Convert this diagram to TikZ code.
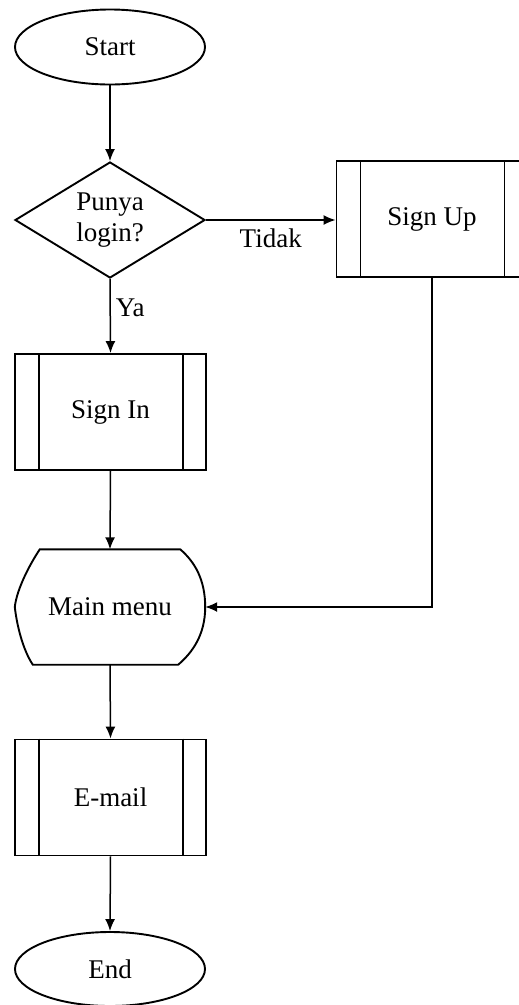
\documentclass[tikz,border=0pt]{standalone}
\usepackage{fontspec}
\setmainfont{Liberation Serif}
\usetikzlibrary{shapes.geometric,arrows.meta}

\begin{document}
\begin{tikzpicture}[x=1pt,y=-1pt,
  font=\fontsize{27}{31}\selectfont,
  shape line/.style={line width=1.9pt},
  terminal/.style={ellipse, draw, shape line, minimum width=190pt, minimum height=75pt, inner sep=0pt},
  decision/.style={diamond, draw, shape line, aspect=1.64, minimum width=190pt, minimum height=116pt, inner sep=0pt, align=center},
  subproc/.style={rectangle, draw, shape line, minimum width=191pt, minimum height=116pt, inner sep=0pt},
  display/.style={rectangle, minimum width=190pt, minimum height=115pt, inner sep=0pt},
  bar/.style={line width=1.4pt},
  flow/.style={line width=1.5pt, -{Latex[length=12pt,width=10pt]}},
  lbl/.style={inner sep=0pt},
]
\useasboundingbox (0,0) rectangle (519,1005);

% nodes
\node[terminal] (start) at (110,47) {Start};
\node[decision] (login) at (110,220) {Punya\\login?};
\node[subproc] (signup) at (432,219) {Sign Up};
\node[subproc] (signin) at (110.5,412) {Sign In};
\node[display] (menu) at (110,607) {Main menu};
\node[subproc] (email) at (110.5,797.5) {E-mail};
\node[terminal, minimum height=74pt] (end) at (110,969) {End};

% side bars of the predefined-process boxes
\foreach \n in {signup,signin,email}{
  \draw[bar] ([xshift=25pt]\n.north west) -- ([xshift=25pt]\n.south west);
  \draw[bar] ([xshift=-24pt]\n.north east) -- ([xshift=-24pt]\n.south east);
}

% display symbol outline around the main menu
\draw[shape line] ([xshift=25pt]menu.north west) -- ([xshift=-25pt]menu.north east)
  .. controls +(14,12) and +(0,-28) .. (menu.east)
  .. controls +(0,28) and +(14,-12) .. ([xshift=-27pt]menu.south east)
  -- ([xshift=18pt]menu.south west)
  .. controls +(-10,-15) and +(2,18) .. (menu.west)
  .. controls +(2,-18) and +(-10,15) .. ([xshift=25pt]menu.north west) -- cycle;

% connectors
\draw[flow] (start.south) -- (login.north);
\draw[flow] (login.east) -- node[lbl, below=8pt] {Tidak} (login.east -| signup.west);
\draw[flow] (login.south) -- node[lbl, pos=0.39, anchor=west, xshift=5pt] {Ya} (signin.north);
\draw[flow] (signin.south) -- (menu.north);
\draw[flow] (signup.south) |- (menu.east);
\draw[flow] (menu.south) -- (email.north);
\draw[flow] (email.south) -- (end.north);
\end{tikzpicture}
\end{document}
